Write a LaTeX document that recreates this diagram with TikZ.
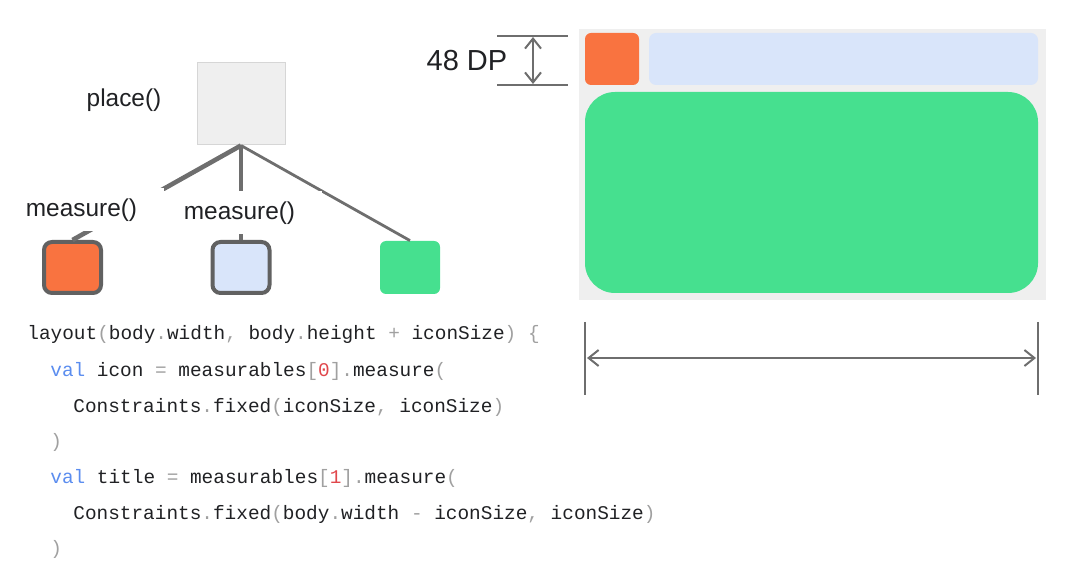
\documentclass[tikz,border=0pt]{standalone}
\usepackage{fontspec}
\setmainfont{Liberation Sans}
\setmonofont{Liberation Mono}
\usetikzlibrary{arrows.meta}
\definecolor{txt}{HTML}{202124}
\definecolor{punct}{HTML}{A0A0A0}
\definecolor{kw}{HTML}{5B8DEF}
\definecolor{num}{HTML}{E0474C}
\definecolor{edgegray}{HTML}{6E6E6E}
\definecolor{panelgray}{HTML}{EFEFEF}
\definecolor{sqborder}{HTML}{D6D6D6}
\definecolor{orangef}{HTML}{F97340}
\definecolor{bluef}{HTML}{D9E5FA}
\definecolor{greenf}{HTML}{46E08F}
\definecolor{boxborder}{HTML}{616161}
\newcommand\pc[1]{\textcolor{punct}{#1}}
\tikzset{
  lbl/.style={font=\fontsize{12.2pt}{14pt}\selectfont, text=txt},
  measlbl/.style={lbl, fill=white, inner xsep=13.5pt, minimum height=21.5pt},
  code/.style={font=\ttfamily\fontsize{9.7pt}{12pt}\selectfont, text=txt, anchor=west, inner sep=0pt},
  childbox/.style={draw=boxborder, line width=2pt, rounded corners=4pt, minimum width=28.5pt, minimum height=25.5pt, inner sep=0pt},
  flat/.style={draw=none, inner sep=0pt},
  edgeline/.style={draw=edgegray, line width=2.3pt},
  dimline/.style={draw=edgegray, line width=1.1pt},
  dimarrow/.style={draw=edgegray, line width=1pt, {Straight Barb[length=5pt,width=8pt]}-{Straight Barb[length=5pt,width=8pt]}}
}
\begin{document}
\begin{tikzpicture}[x=0.5pt,y=-0.5pt]
\useasboundingbox (0,0) rectangle (1080,571);
% tree
\node[flat, fill=panelgray, draw=sqborder, line width=0.5pt, minimum width=44pt, minimum height=41pt] (parent) at (241,104) {};
\node[lbl] (placelbl) at (124,100) {place()};
\node[childbox, fill=orangef] (c1) at (72.5,267.5) {};
\node[childbox, fill=bluef] (c2) at (241,267.5) {};
\node[flat, fill=greenf, rounded corners=3pt, minimum width=30pt, minimum height=26.5pt] (c3) at (410,267.5) {};
\draw[edgeline] (parent.south) -- (c1.north);
\draw[edgeline] (parent.south) -- (c2.north);
\draw[edgeline, line width=1.4pt] (parent.south) -- (c3.north);
\node[measlbl] (m1) at (81.5,210) {measure()};
\node[measlbl] (m2) at (239.5,213) {measure()};
% right panel
\node[flat, fill=panelgray, minimum width=233.5pt, minimum height=135.5pt] (bg) at (812.5,164.5) {};
\node[flat, fill=orangef, rounded corners=3pt, minimum width=27pt, minimum height=26pt] (icon) at (612,59) {};
\node[flat, fill=bluef, rounded corners=3.5pt, minimum width=194.5pt, minimum height=26pt] (title) at (843.5,59) {};
\node[flat, fill=greenf, rounded corners=15pt, minimum width=226.5pt, minimum height=100.5pt] (body) at (811.5,192.5) {};
% 48 DP dimension
\coordinate (ta) at (497,36);
\coordinate (tb) at (568,36);
\coordinate (ba) at (497,85);
\coordinate (bb) at (568,85);
\coordinate (at) at (533,37);
\coordinate (ab) at (533,84);
\draw[dimline] (ta) -- (tb);
\draw[dimline] (ba) -- (bb);
\draw[dimarrow] (at) -- (ab);
\node[font=\fontsize{14.5pt}{16pt}\selectfont, text=txt] (dp) at (467,61) {48 DP};
% width dimension
\coordinate (l1) at (585,322);
\coordinate (l2) at (585,395);
\coordinate (r1) at (1038,322);
\coordinate (r2) at (1038,395);
\coordinate (wl) at (587,358);
\coordinate (wr) at (1036,358);
\draw[dimline, line width=1.3pt] (l1) -- (l2);
\draw[dimline, line width=1.3pt] (r1) -- (r2);
\draw[dimarrow] (wl) -- (wr);
% code
\node[code] (k1) at (27,334) {layout\pc{(}body\pc{.}width\pc{,} body\pc{.}height \pc{+} iconSize\pc{)} \pc{\{}};
\node[code] (k2) at (50,371) {\textcolor{kw}{val} icon \pc{=} measurables\pc{[}\textcolor{num}{0}\pc{]}\pc{.}measure\pc{(}};
\node[code] (k3) at (73,407) {Constraints\pc{.}fixed\pc{(}iconSize\pc{,} iconSize\pc{)}};
\node[code] (k4) at (50,442) {\pc{)}};
\node[code] (k5) at (50,478) {\textcolor{kw}{val} title \pc{=} measurables\pc{[}\textcolor{num}{1}\pc{]}\pc{.}measure\pc{(}};
\node[code] (k6) at (73,514) {Constraints\pc{.}fixed\pc{(}body\pc{.}width \pc{-} iconSize\pc{,} iconSize\pc{)}};
\node[code] (k7) at (50,549) {\pc{)}};
\end{tikzpicture}
\end{document}
